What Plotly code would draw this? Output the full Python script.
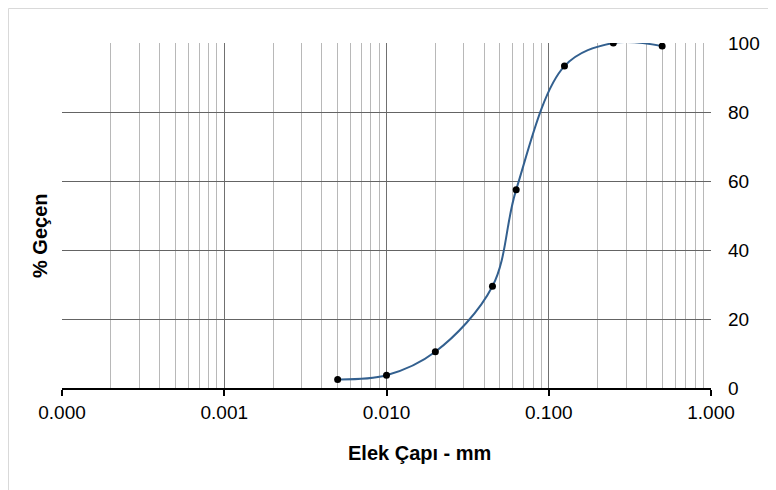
import plotly.graph_objects as go

# Data
sieve_mm = [0.005, 0.01, 0.02, 0.045, 0.063, 0.125, 0.25, 0.5]
passing_pct = [2.5, 3.7, 10.5, 29.5, 57.5, 93.3, 100.0, 99.1]

x_decades = [0.0001, 0.001, 0.01, 0.1, 1.0]
x_tick_text = ["0.000", "0.001", "0.010", "0.100", "1.000"]
y_ticks = [0, 20, 40, 60, 80, 100]

minor_vals = [d * k for d in x_decades[:-1] for k in range(2, 10)]

FONT = "Liberation Sans, Arial, sans-serif"

# page body adds an 8px offset; compensate so the plot area sits at 62..711 x 43..388
fig = go.Figure()
fig.add_trace(go.Scatter(
    x=sieve_mm, y=passing_pct, mode="lines+markers",
    line=dict(shape="spline", smoothing=1.0, color="#33608F", width=2),
    marker=dict(color="black", size=7),
    showlegend=False, hoverinfo="x+y",
))

fig.update_layout(
    width=768, height=482,
    margin=dict(l=54, r=65, t=35, b=102),
    paper_bgcolor="white", plot_bgcolor="white",
    font=dict(family=FONT, size=19, color="black"),
    xaxis=dict(
        type="log", range=[-4, 0],
        tickvals=x_decades, ticktext=x_tick_text,
        showgrid=True, gridcolor="#707070", gridwidth=1,
        showline=True, linecolor="black", linewidth=2,
        ticks="outside", ticklen=6, tickcolor="black", tickwidth=1.5,
        zeroline=False,
        minor=dict(tickvals=minor_vals, showgrid=True, gridcolor="#B8B8B8", gridwidth=1, ticks=""),
        tickfont=dict(size=19),
    ),
    yaxis=dict(
        range=[0, 100], side="right", tickvals=y_ticks,
        showgrid=True, gridcolor="#646464", gridwidth=1,
        zeroline=False, showline=False, ticks="",
        ticklabelstandoff=16,
        tickfont=dict(size=19),
    ),
    shapes=[dict(type="rect", xref="paper", yref="paper",
                 x0=-53.5 / 649, x1=1.3, y0=-0.6, y1=1 + 34.5 / 345,
                 line=dict(color="#D9D9D9", width=1), fillcolor="rgba(0,0,0,0)", layer="below")],
    annotations=[
        dict(text="<b>Elek Çapı - mm</b>", xref="paper", yref="paper",
             x=(419 - 62) / 649, y=-(453 - 388) / 345, xanchor="center", yanchor="middle",
             showarrow=False, font=dict(size=20, family=FONT, color="black")),
        dict(text="<b>% Geçen</b>", xref="paper", yref="paper",
             x=(40 - 62) / 649, y=(388 - 236) / 345, xanchor="center", yanchor="middle",
             textangle=-90, showarrow=False, font=dict(size=20, family=FONT, color="black")),
    ],
)

fig.write_html("out.html")
